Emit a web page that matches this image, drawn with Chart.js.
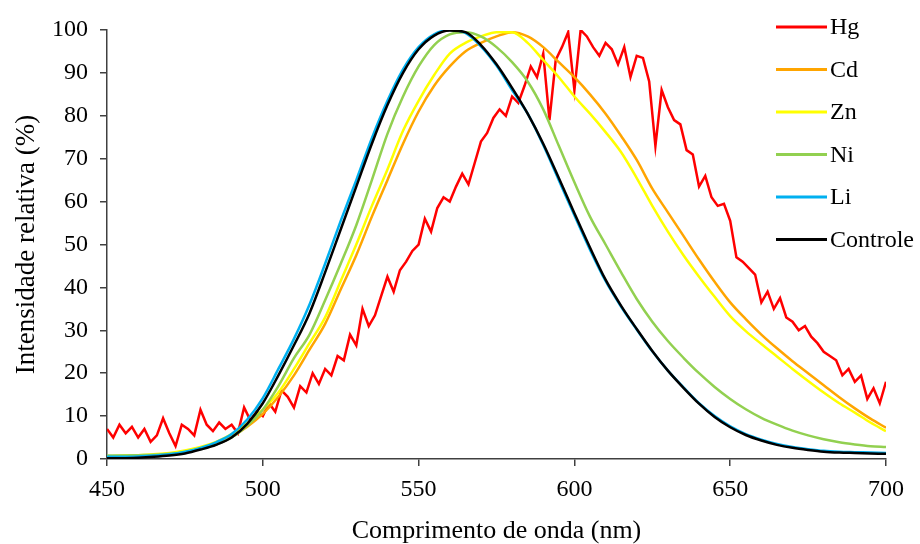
<!DOCTYPE html>
<html>
<head>
<meta charset="utf-8">
<script src="https://cdn.jsdelivr.net/npm/chart.js@4.4.1/dist/chart.umd.min.js"></script>
<style>
  html, body { margin: 0; padding: 0; background: #fff; }
  #wrap { width: 920px; height: 544px; }
</style>
</head>
<body>
<div id="wrap"><canvas id="chart" width="920" height="544"></canvas></div>
<script>
// comprimento de onda (nm) das curvas suaves
const nm = [450, 455, 460, 465, 470, 475, 480, 485, 490, 495, 500, 505, 510, 515, 520, 525, 530, 535, 540, 545,
  550, 555, 560, 565, 570, 575, 580, 585, 590, 595, 600, 605, 610, 615, 620, 625, 630, 635, 640, 645,
  650, 655, 660, 665, 670, 675, 680, 685, 690, 695, 700];

const cd = [0.5, 0.6, 0.7, 0.9, 1.2, 1.7, 2.5, 3.6, 5.2, 7.5, 10.5, 14.5, 19.5, 25.5, 31.5, 39.5, 47.5, 56.5, 65, 73.5,
  81, 87, 91.5, 95, 97, 98.5, 99.5, 98.5, 96, 92.5, 89, 85, 80.5, 75.3, 69.7, 63, 57.5, 52, 46.5, 41.3,
  36.5, 32.6, 29, 25.8, 22.8, 20, 17.2, 14.4, 11.8, 9.4, 7.3];

const zn = [0.6, 0.8, 0.9, 1.1, 1.4, 2, 2.8, 4, 5.8, 8.3, 11.5, 15.5, 21, 27, 33, 41.5, 50, 59, 67.5, 76.5,
  83.5, 89.5, 94.5, 97, 98.5, 99.5, 99.5, 97, 93, 89, 84.5, 80.5, 76.2, 71.5, 65.5, 59, 53, 47.5, 42.5, 37.8,
  33.3, 29.8, 26.8, 23.9, 21, 18.2, 15.5, 13, 10.8, 8.5, 6.5];

const ni = [0.8, 0.8, 0.9, 1, 1.2, 1.6, 2.3, 3.4, 5, 7.8, 11.5, 17, 23.5, 29, 37, 45.5, 54.5, 65, 75.8, 84.5,
  91.5, 96.5, 99, 99.5, 98.5, 96, 92.5, 88, 81.5, 73, 64.5, 56.5, 50, 43.5, 37.3, 32, 27.5, 23.6, 20, 16.8,
  14, 11.6, 9.6, 8, 6.6, 5.5, 4.6, 3.9, 3.4, 3, 2.8];

const li = [0.5, 0.5, 0.6, 0.8, 1.1, 1.7, 2.6, 3.9, 5.8, 9.2, 14.2, 21, 28, 36, 45.5, 55.5, 65, 74.8, 83.5, 90.8,
  96, 99, 100, 99.3, 96.2, 91.7, 86, 80.5, 73.2, 65, 56.8, 48.8, 41.5, 35.5, 30.2, 25.1, 20.6, 16.7, 13, 10,
  7.6, 5.8, 4.5, 3.5, 2.8, 2.3, 1.9, 1.7, 1.6, 1.5, 1.4];

const controle = [0.2, 0.2, 0.3, 0.5, 0.8, 1.3, 2.2, 3.3, 5, 8.2, 13, 19.5, 26.5, 34, 43.5, 53.5, 63.5, 73.5, 82.5, 90,
  95.5, 98.7, 99.9, 99.5, 96.5, 92, 86.5, 80.5, 73.5, 65.5, 57.3, 49.3, 41.8, 35.7, 30.3, 25.2, 20.6, 16.6, 12.9, 9.8,
  7.4, 5.6, 4.3, 3.3, 2.6, 2.1, 1.7, 1.5, 1.4, 1.3, 1.2];

// Hg tem ruído, lido a cada 2 nm
const hgNm = [450, 452, 454, 456, 458, 460, 462, 464, 466, 468, 470, 472, 474, 476, 478, 480, 482, 484, 486, 488,
  490, 492, 494, 496, 498, 500, 502, 504, 506, 508, 510, 512, 514, 516, 518, 520, 522, 524, 526, 528,
  530, 532, 534, 536, 538, 540, 542, 544, 546, 548, 550, 552, 554, 556, 558, 560, 562, 564, 566, 568,
  570, 572, 574, 576, 578, 580, 582, 584, 586, 588, 590, 592, 594, 596, 598, 600, 602, 604, 606, 608,
  610, 612, 614, 616, 618, 620, 622, 624, 626, 628, 630, 632, 634, 636, 638, 640, 642, 644, 646, 648,
  650, 652, 654, 656, 658, 660, 662, 664, 666, 668, 670, 672, 674, 676, 678, 680, 682, 684, 686, 688,
  690, 692, 694, 696, 698, 700];

const hg = [7, 5, 8, 6, 7.5, 5, 7, 4, 5.5, 9.5, 6, 3, 8, 7, 5.5, 11.5, 8, 6.5, 8.5, 7,
  8, 6, 12, 9, 11, 10, 13, 11, 16, 14.5, 12, 17, 15.5, 20, 17.5, 21, 19.5, 24, 23, 29,
  26.5, 35, 31, 33.5, 38, 42.5, 39, 44, 46, 48.5, 50, 56, 53, 58.5, 61, 60, 63.5, 66.5, 64, 69,
  74, 76, 79.5, 81.5, 80, 84.5, 83, 87, 91.5, 89, 94.5, 79, 93, 96, 99.5, 86, 100, 98.5, 96, 94,
  97, 95.5, 92, 96, 89, 94, 93.5, 88, 73, 86, 82, 79, 78, 72, 71, 63.5, 66, 61, 59, 59.5,
  55.5, 47, 46, 44.5, 43, 36.5, 39, 35, 37.5, 33, 32, 30, 31, 28.5, 27, 25, 24, 23, 19.5, 21,
  18, 19.5, 14, 16.5, 13, 18];

const xTicks = [450, 500, 550, 600, 650, 700];
const yTicks = [0, 10, 20, 30, 40, 50, 60, 70, 80, 90, 100];

const serif = '"Liberation Serif", "Times New Roman", serif';
const axisColor = '#404040';

function pts(xs, ys) {
  return xs.map((x, i) => ({ x: x, y: ys[i] }));
}

function serie(label, xs, ys, color, order, smooth) {
  return {
    label: label,
    data: pts(xs, ys),
    borderColor: color,
    backgroundColor: color,
    borderWidth: 2.5,
    pointRadius: 0,
    tension: smooth ? 0.4 : 0,
    cubicInterpolationMode: smooth ? 'monotone' : 'default',
    order: order
  };
}

// legenda desenhada por cima da área do gráfico, como no Excel
const legendaExcel = {
  id: 'legendaExcel',
  afterDraw(chart) {
    const c = chart.ctx;
    const x0 = 776, x1 = 827, top = 27, step = 42.5;
    c.save();
    c.font = '24px ' + serif;
    c.textBaseline = 'middle';
    c.textAlign = 'left';
    chart.data.datasets.forEach((ds, i) => {
      const y = top + i * step;
      c.strokeStyle = ds.borderColor;
      c.lineWidth = 3;
      c.beginPath();
      c.moveTo(x0, y);
      c.lineTo(x1, y);
      c.stroke();
      c.fillStyle = '#000';
      c.fillText(ds.label, x1 + 3, y + 1);
    });
    c.restore();
  }
};

new Chart(document.getElementById('chart'), {
  type: 'line',
  data: {
    datasets: [
      serie('Hg', hgNm, hg, '#ff0000', 6, false),
      serie('Cd', nm, cd, '#ffa500', 5, true),
      serie('Zn', nm, zn, '#ffff00', 4, true),
      serie('Ni', nm, ni, '#92d050', 3, true),
      serie('Li', nm, li, '#00b0f0', 2, true),
      serie('Controle', nm, controle, '#000000', 1, true)
    ]
  },
  options: {
    responsive: false,
    animation: false,
    devicePixelRatio: 1,
    layout: { padding: { top: 30, right: 34, bottom: 0, left: 0 } },
    plugins: {
      legend: { display: false },
      tooltip: { enabled: false }
    },
    scales: {
      x: {
        type: 'linear',
        min: 450,
        max: 700,
        afterBuildTicks(scale) { scale.ticks = xTicks.map(v => ({ value: v })); },
        afterFit(scale) { scale.height = 85; },
        ticks: { color: '#000', font: { family: serif, size: 24 }, padding: 9, maxRotation: 0 },
        grid: { display: true, drawOnChartArea: false, drawTicks: true, tickLength: 7, color: axisColor, lineWidth: 1.5 },
        border: { display: true, color: axisColor, width: 1.5 },
        title: { display: true, text: 'Comprimento de onda (nm)', color: '#000', font: { family: serif, size: 26 }, padding: { top: 0, bottom: -3 } }
      },
      y: {
        min: 0,
        max: 100,
        afterBuildTicks(scale) { scale.ticks = yTicks.map(v => ({ value: v })); },
        afterFit(scale) { scale.width = 107; },
        ticks: { color: '#000', font: { family: serif, size: 24 }, padding: 12 },
        grid: { display: true, drawOnChartArea: false, drawTicks: true, tickLength: 7, color: axisColor, lineWidth: 1.5 },
        border: { display: true, color: axisColor, width: 1.5 },
        title: { display: true, text: 'Intensidade relativa (%)', color: '#000', font: { family: serif, size: 27 }, padding: { top: 11, bottom: 0 } }
      }
    }
  },
  plugins: [legendaExcel]
});
</script>
</body>
</html>
